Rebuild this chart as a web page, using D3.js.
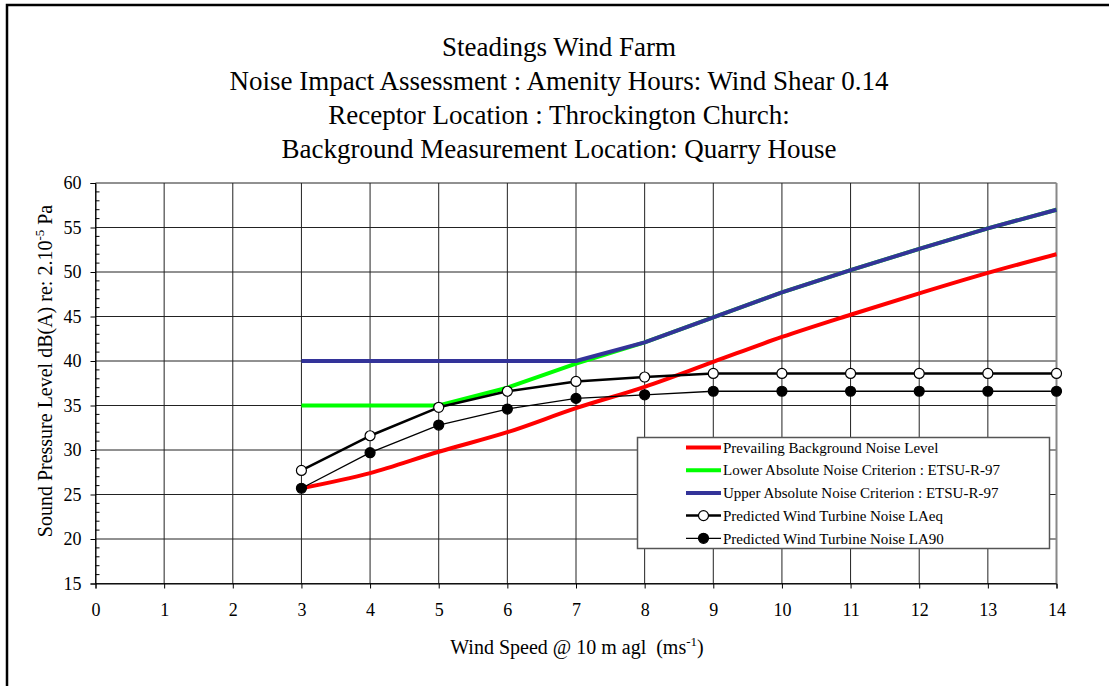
<!DOCTYPE html>
<html>
<head>
<meta charset="utf-8">
<script src="https://cdn.jsdelivr.net/npm/d3@7"></script>
<style>
  body { margin: 0; background: #fff; }
  svg text { font-family: "Liberation Serif", "Times New Roman", serif; fill: #000; }
</style>
</head>
<body>
<svg id="chart"></svg>
<script>
// wind speeds (m/s)
var windSpeed = [3, 4, 5, 6, 7, 8, 9, 10, 11, 12, 13, 14];

// series values dB(A)
var background = [25.7, 27.4, 29.8, 32.0, 34.7, 37.1, 39.9, 42.7, 45.2, 47.6, 49.9, 52.0];
var lowerCrit  = [35.0, 35.0, 35.0, 37.0, 39.7, 42.1, 44.9, 47.7, 50.2, 52.6, 54.9, 57.0];
var upperCrit  = [40.0, 40.0, 40.0, 40.0, 40.0, 42.1, 44.9, 47.7, 50.2, 52.6, 54.9, 57.0];
var turbineLAeq = [27.7, 31.6, 34.8, 36.6, 37.7, 38.2, 38.6, 38.6, 38.6, 38.6, 38.6, 38.6];
var turbineLA90 = [25.7, 29.7, 32.8, 34.6, 35.8, 36.2, 36.6, 36.6, 36.6, 36.6, 36.6, 36.6];

var xTicks = [0, 1, 2, 3, 4, 5, 6, 7, 8, 9, 10, 11, 12, 13, 14];
var yTicks = [15, 20, 25, 30, 35, 40, 45, 50, 55, 60];

var titleLines = [
  "Steadings Wind Farm",
  "Noise Impact Assessment : Amenity Hours: Wind Shear 0.14",
  "Receptor Location : Throckington Church:",
  "Background Measurement Location: Quarry House"
];

var series = [
  { name: "Prevailing Background Noise Level", values: background, color: "#ff0000", width: 4, smooth: true },
  { name: "Lower Absolute Noise Criterion : ETSU-R-97", values: lowerCrit, color: "#00ff00", width: 4 },
  { name: "Upper Absolute Noise Criterion : ETSU-R-97", values: upperCrit, color: "#333399", width: 4 },
  { name: "Predicted Wind Turbine Noise LAeq", values: turbineLAeq, color: "#000", width: 2.5, marker: "open" },
  { name: "Predicted Wind Turbine Noise LA90", values: turbineLA90, color: "#000", width: 1.3, marker: "filled" }
];

var serif = "Liberation Serif";
var width = 1109, height = 686;
var svg = d3.select("#chart").attr("width", width).attr("height", height)
            .attr("font-family", serif);

// outer frame (runs off the right and bottom of the picture)
svg.append("rect")
   .attr("x", 7).attr("y", 5)
   .attr("width", 1200).attr("height", 800)
   .attr("fill", "none").attr("stroke", "#000").attr("stroke-width", 2.5);

var x = d3.scaleLinear().domain([0, 14]).range([95.5, 1056.5]);
var y = d3.scaleLinear().domain([15, 60]).range([583.5, 183]);

// title
svg.selectAll(".title")
   .data(titleLines)
   .enter()
   .append("text")
   .attr("class", "title")
   .attr("x", 559)
   .attr("y", function(d, i) { return 56 + i * 34; })
   .attr("text-anchor", "middle")
   .attr("font-family", serif)
   .attr("font-size", "27px")
   .text(function(d) { return d; });

// grid
svg.append("g").selectAll("line")
   .data(yTicks)
   .enter().append("line")
   .attr("x1", x(0)).attr("x2", x(14))
   .attr("y1", function(d) { return y(d); })
   .attr("y2", function(d) { return y(d); })
   .attr("stroke", "#222").attr("stroke-width", 1);

svg.append("g").selectAll("line")
   .data(xTicks)
   .enter().append("line")
   .attr("y1", y(15)).attr("y2", y(60))
   .attr("x1", function(d) { return x(d); })
   .attr("x2", function(d) { return x(d); })
   .attr("stroke", function(d) { return d == 14 ? "#888" : "#222"; })
   .attr("stroke-width", function(d) { return d == 14 ? 2 : 1; });

// axes
var yAxis = d3.axisLeft(y).tickValues(yTicks).tickSize(5).tickPadding(9);
var gy = svg.append("g").attr("transform", "translate(" + x(0) + ",0)").call(yAxis);
gy.attr("font-family", serif);
gy.selectAll("text").attr("font-size", "18px");

// minor ticks inside the y axis
var minor = d3.range(15, 61).filter(function(d) { return d % 5 != 0; });
gy.selectAll(".minor")
  .data(minor)
  .enter().append("line")
  .attr("class", "minor")
  .attr("x1", 0).attr("x2", 4)
  .attr("y1", function(d) { return y(d); })
  .attr("y2", function(d) { return y(d); })
  .attr("stroke", "#000");

var xAxis = d3.axisBottom(x).tickValues(xTicks).tickSize(5).tickPadding(15);
var gx = svg.append("g").attr("transform", "translate(0," + y(15) + ")").call(xAxis);
gx.attr("font-family", serif);
gx.selectAll("text").attr("font-size", "18px");

svg.selectAll(".domain").attr("stroke", "#000");

// axis titles
var xt = svg.append("text")
   .attr("x", 577).attr("y", 654)
   .attr("text-anchor", "middle")
   .attr("font-family", serif)
   .attr("font-size", "20px")
   .style("white-space", "pre");
xt.append("tspan").text("Wind Speed @ 10 m agl  (ms");
xt.append("tspan").attr("dy", -8).attr("font-size", "13px").text("-1");
xt.append("tspan").attr("dy", 8).text(")");

var yt = svg.append("text")
   .attr("transform", "translate(52,371) rotate(-90)")
   .attr("text-anchor", "middle")
   .attr("font-family", serif)
   .attr("font-size", "20px");
yt.append("tspan").text("Sound Pressure Level dB(A) re: 2.10");
yt.append("tspan").attr("dy", -8).attr("font-size", "13px").text("-5");
yt.append("tspan").attr("dy", 8).text(" Pa");

// lines
var smoothLine = d3.line()
  .x(function(d) { return x(d[0]); })
  .y(function(d) { return y(d[1]); })
  .curve(d3.curveMonotoneX);
var straightLine = d3.line()
  .x(function(d) { return x(d[0]); })
  .y(function(d) { return y(d[1]); });

series.forEach(function(s) {
  var pts = windSpeed.map(function(w, i) { return [w, s.values[i]]; });
  svg.append("path")
     .datum(pts)
     .attr("d", s.smooth ? smoothLine : straightLine)
     .attr("fill", "none")
     .attr("stroke", s.color)
     .attr("stroke-width", s.width)
     .attr("stroke-linejoin", "round");
  if (s.marker) {
    svg.append("g").selectAll("circle")
       .data(pts)
       .enter().append("circle")
       .attr("cx", function(d) { return x(d[0]); })
       .attr("cy", function(d) { return y(d[1]); })
       .attr("r", 5)
       .attr("fill", s.marker == "open" ? "#fff" : "#000")
       .attr("stroke", "#000")
       .attr("stroke-width", 1.2);
  }
});

// legend
var lg = svg.append("g");
lg.append("rect")
  .attr("x", 637.5).attr("y", 437.5)
  .attr("width", 412).attr("height", 111)
  .attr("fill", "#fff").attr("stroke", "#555").attr("stroke-width", 1.5);

var rows = lg.selectAll(".row")
  .data(series)
  .enter().append("g")
  .attr("transform", function(d, i) { return "translate(0," + (447.5 + i * 22.7) + ")"; });
rows.append("line")
  .attr("x1", 686).attr("x2", 721)
  .attr("stroke", function(d) { return d.color; })
  .attr("stroke-width", function(d) { return d.width; });
rows.filter(function(d) { return d.marker; })
  .append("circle")
  .attr("cx", 703.5).attr("r", 5)
  .attr("fill", function(d) { return d.marker == "open" ? "#fff" : "#000"; })
  .attr("stroke", "#000").attr("stroke-width", 1.2);
rows.append("text")
  .attr("x", 723).attr("dy", "0.35em")
  .attr("font-family", serif)
  .attr("font-size", "15px")
  .text(function(d) { return d.name; });
</script>
</body>
</html>
